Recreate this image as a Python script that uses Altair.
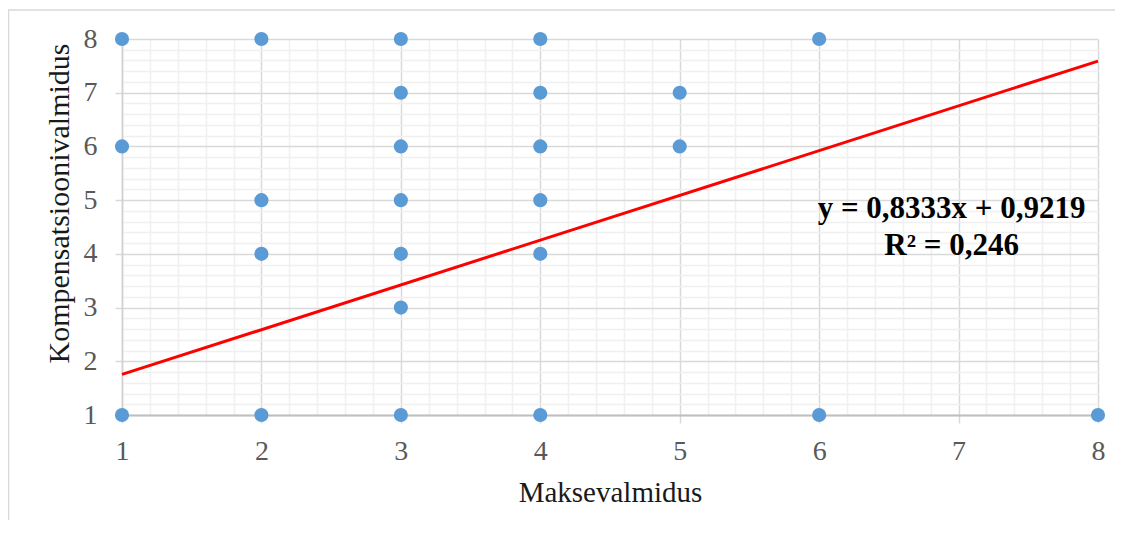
import altair as alt
import pandas as pd

# Scatter data (Maksevalmidus, Kompensatsioonivalmidus)
x_vals = [1, 1, 1, 2, 2, 2, 2, 3, 3, 3, 3, 3, 3, 3, 4, 4, 4, 4, 4, 4, 5, 5, 6, 6, 8]
y_vals = [8, 6, 1, 8, 5, 4, 1, 8, 7, 6, 5, 4, 3, 1, 8, 7, 6, 5, 4, 1, 7, 6, 8, 1, 1]

# Trendline coefficients from the chart
slope = 0.8333
intercept = 0.9219
trend_x = [1, 8]
equation_lines = ["y = 0,8333x + 0,9219", "R² = 0,246"]
equation_pos = [6.95, 4.667]

x_title = "Maksevalmidus"
y_title = "Kompensatsioonivalmidus"

pts = pd.DataFrame({"x": x_vals, "y": y_vals})
trend = pd.DataFrame({"x": trend_x, "y": [slope * v + intercept for v in trend_x]})
eq = pd.DataFrame({"x": [equation_pos[0]], "y": [equation_pos[1]], "t": [equation_lines]})

grid_values = [round(1 + 0.2 * i, 1) for i in range(36)]
major = "datum.value % 1 === 0"
FONT = "Liberation Serif"

xscale = alt.Scale(domain=[1, 8], nice=False, zero=False)
yscale = alt.Scale(domain=[1, 8], nice=False, zero=False)

xaxis = alt.Axis(
    values=grid_values, tickCount=200,
    labelExpr=f"{major} ? format(datum.value, 'd') : ''",
    labelOverlap=False, labelFlush=False, labelBound=False,
    grid=True,
    gridColor=alt.condition(major, alt.value("#d9d9d9"), alt.value("#f0f0f0")),
    gridWidth=1.5,
    tickColor="#d9d9d9", tickWidth=1.5, tickSize=8,
    tickOpacity=alt.condition(major, alt.value(1), alt.value(0)),
    domainColor="#bfbfbf", domainWidth=2,
    labelFont=FONT, labelFontSize=28, labelColor="#595959", labelPadding=14,
    title=x_title, titleFont=FONT, titleFontSize=29, titleFontWeight="normal",
    titleColor="#1a1a1a", titleBaseline="alphabetic", titleY=86,
)
yaxis = alt.Axis(
    values=grid_values, tickCount=200,
    labelExpr=f"{major} ? format(datum.value, 'd') : ''",
    labelOverlap=False, labelFlush=False, labelBound=False,
    grid=True,
    gridColor=alt.condition(major, alt.value("#d9d9d9"), alt.value("#f0f0f0")),
    gridWidth=1.5,
    tickColor="#d9d9d9", tickWidth=1.5, tickSize=7,
    tickOpacity=alt.condition(major, alt.value(1), alt.value(0)),
    domainColor="#d0d0d0", domainWidth=1.5,
    labelFont=FONT, labelFontSize=28, labelColor="#595959", labelPadding=18,
    title=y_title, titleFont=FONT, titleFontSize=30, titleFontWeight="normal",
    titleColor="#1a1a1a", titleBaseline="alphabetic", titleX=-54, titleY=164,
    titleAngle=270,
)

border = alt.Chart(pd.DataFrame({"a": [0]})).mark_rect(
    fill=None, stroke="#d9d9d9", strokeWidth=1.5
).encode(
    x=alt.value(-113.5), x2=alt.value(1200), y=alt.value(-29), y2=alt.value(700)
)

points = alt.Chart(pts).mark_circle(size=200, color="#5b9bd5", opacity=1, clip=False).encode(
    x=alt.X("x:Q", scale=xscale, axis=xaxis),
    y=alt.Y("y:Q", scale=yscale, axis=yaxis),
)

line = alt.Chart(trend).mark_line(color="#ff0000", strokeWidth=3).encode(
    x=alt.X("x:Q", scale=xscale),
    y=alt.Y("y:Q", scale=yscale),
)

text = alt.Chart(eq).mark_text(
    font=FONT, fontSize=31, fontWeight="bold", color="#000000",
    align="center", baseline="alphabetic", lineHeight=37,
).encode(
    x=alt.X("x:Q", scale=xscale),
    y=alt.Y("y:Q", scale=yscale),
    text="t",
)

chart = alt.layer(border, points, line, text).properties(
    width=976, height=376,
    autosize=alt.AutoSizeParams(type="none"),
    padding={"left": 114, "top": 31, "right": 17, "bottom": 105},
    background="white",
).configure_view(stroke=None)

chart.save("out.html", embed_options={"renderer": "svg", "actions": False})
